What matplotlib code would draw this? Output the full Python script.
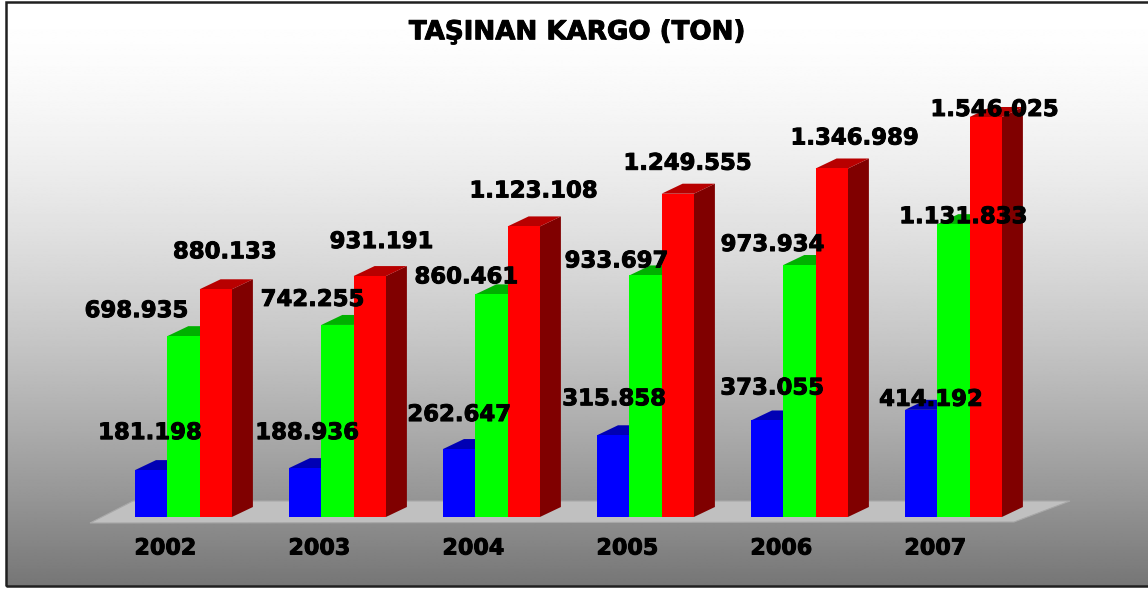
import numpy as np
import matplotlib.pyplot as plt
import matplotlib.patheffects as pe
from matplotlib.patches import Polygon, Rectangle

# data
years = ['2002', '2003', '2004', '2005', '2006', '2007']
blue_vals = [181198, 188936, 262647, 315858, 373055, 414192]
green_vals = [698935, 742255, 860461, 933697, 973934, 1131833]
red_vals = [880133, 931191, 1123108, 1249555, 1346989, 1546025]

# label offsets from bar top centre, in pixels (dx, dy up) - labels were hand placed
blue_off = [(-1, 39), (2, 37), (0, 36), (1, 38), (5, 34), (10, 12)]
green_off = [(-47, 27), (-25, 27), (-25, 19), (-29, 16), (-27, 22), (10, 9)]
red_off = [(9, 39), (12, 36), (10, 37), (10, 32), (23, 32), (9, 9)]

W, H = 1148, 589
fig = plt.figure(figsize=(W / 100, H / 100), dpi=100)
fig.patch.set_facecolor('white')

# gradient background inside the frame
bg = fig.add_axes([6 / W, 1 - 586 / H, 1 - 6 / W, 584 / H])
t = np.linspace(0, 1, 400)[:, None]
grad = 255 - 137 * t ** 1.6
bg.imshow(np.repeat(grad, 2, axis=1), cmap='gray', vmin=0, vmax=255, aspect='auto',
          interpolation='bilinear')
bg.axis('off')

ax = fig.add_axes([0, 0, 1, 1])
ax.patch.set_alpha(0)
ax.axis('off')
px_x = 1 / 154.0     # data units per pixel, x
px_y = 3865.0        # data units per pixel, y
ax.set_xlim(-135 * px_x, (W - 135) * px_x)
ax.set_ylim((517 - H) * px_y, 517 * px_y)

bw = 32.3 * px_x
dx = 21 * px_x
dy = 10 * px_y
n = len(years)
idx = np.arange(n)

# floor
floor = Polygon([(-45 * px_x, -6 * px_y), ((n - 1) + 109 * px_x, -5 * px_y),
                 ((n - 1) + 165 * px_x, 16 * px_y), (-2 * px_x, 16 * px_y)],
                closed=True, facecolor='#c0c0c0', edgecolor='#a8a8a8', lw=0.8, zorder=1)
ax.add_patch(floor)

series = [
    (blue_vals, '#0000ff', '#0000b4', '#000080', blue_off),
    (green_vals, '#00ff00', '#00b000', '#008000', green_off),
    (red_vals, '#ff0000', '#b80000', '#800000', red_off),
]

bold = [pe.withStroke(linewidth=0.7, foreground='black')]

for j, (vals, front, top, side, offs) in enumerate(series):
    x = idx + j * bw
    z = 2 + 2 * j
    for xi, v in zip(x, vals):
        ax.add_patch(Polygon([(xi + bw, 0), (xi + bw + dx, dy), (xi + bw + dx, v + dy), (xi + bw, v)],
                             closed=True, facecolor=side, edgecolor='none', zorder=z))
        ax.add_patch(Polygon([(xi, v), (xi + bw, v), (xi + bw + dx, v + dy), (xi + dx, v + dy)],
                             closed=True, facecolor=top, edgecolor='none', zorder=z))
    ax.bar(x, vals, width=bw, align='edge', color=front, edgecolor='none', zorder=z + 1)
    for xi, v, (ox, oy) in zip(x, vals, offs):
        ax.annotate(f'{v:,}'.replace(',', '.'), (xi + bw / 2, v), textcoords='offset pixels',
                    xytext=(ox, oy - 8), ha='center', va='baseline', fontsize=16.4,
                    fontweight='bold', color='black', zorder=10, path_effects=bold)

for i, yr in enumerate(years):
    ax.annotate(yr, (i + 1.5 * bw, 0), textcoords='offset pixels', xytext=(-18, -37.5),
                ha='center', va='baseline', fontsize=16, fontweight='bold', color='black',
                path_effects=bold)

fig.text(577 / W, 1 - 39.3 / H, 'TAŞINAN KARGO (TON)', ha='center', va='baseline',
         fontsize=18.8, fontweight='bold', color='black', path_effects=bold)

# frame
fig.patches.append(Rectangle((6 / W, 1 - 586 / H), 1.5, 584.5 / H, transform=fig.transFigure,
                             fill=False, edgecolor='#202020', lw=1.8, zorder=20))

fig.savefig('out.png', dpi=100)
